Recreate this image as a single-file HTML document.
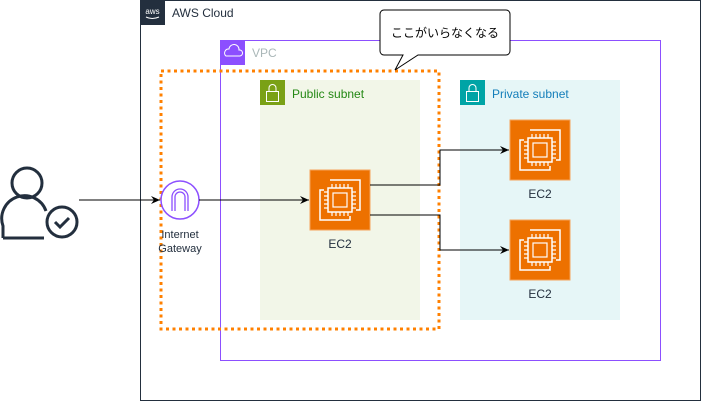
<!DOCTYPE html>
<html><head><meta charset="utf-8"><style>html,body{margin:0;padding:0;background:#fff}svg{display:block}text{font-family:"Liberation Sans","Noto Sans CJK JP",sans-serif}</style></head><body>
<svg width="701" height="401" viewBox="0 0 701 401" xmlns="http://www.w3.org/2000/svg">
<defs>
<marker id="a" markerWidth="10" markerHeight="10" refX="9" refY="5" orient="auto" markerUnits="userSpaceOnUse"><path d="M0,1 L9,5 L0,9 L3,5 Z" fill="#000"/></marker>
<g id="ec2">
<rect width="60" height="60" fill="#ed7100" stroke="#f5a25a" stroke-width="1"/>
<path d="M20,10 H50 V40 H46 M14,20 H10 V50 H40 V46" fill="none" stroke="#fff" stroke-width="1.5"/>
<rect x="18" y="18" width="24" height="24" fill="none" stroke="#fff" stroke-width="1.5"/>
<rect x="23" y="23" width="14" height="14" fill="none" stroke="#fff" stroke-width="1.2"/>
<path d="M22,14v4M26,14v4M30,14v4M34,14v4M38,14v4M22,42v4M26,42v4M30,42v4M34,42v4M38,42v4M14,22h4M14,26h4M14,30h4M14,34h4M14,38h4M42,22h4M42,26h4M42,30h4M42,34h4M42,38h4" stroke="#fff" stroke-width="1.2"/>
</g>
</defs>
<rect x="140.5" y="0.5" width="560" height="400" fill="#fff" stroke="#232f3e"/>
<rect x="140" y="0" width="25" height="25" fill="#232f3e"/>
<text x="152.5" y="14" font-size="8" fill="#fff" text-anchor="middle">aws</text>
<path d="M146,17 q6,3 13,0" stroke="#fff" fill="none" stroke-width="1"/>
<text x="172" y="17" font-size="12" fill="#232f3e">AWS Cloud</text>
<rect x="220.5" y="40.5" width="440" height="320" fill="none" stroke="#8c4fff"/>
<rect x="220" y="40" width="25" height="25" fill="#8c4fff"/>
<path d="M226,56 a4,4 0 0 1 3,-7 a5,5 0 0 1 10,1 a3,3 0 0 1 1,6 Z" fill="none" stroke="#fff" stroke-width="1"/>
<text x="252" y="57" font-size="12" fill="#aab7b8">VPC</text>
<rect x="260" y="80" width="160" height="240" fill="#f2f6e8"/>
<rect x="260" y="80" width="25" height="25" fill="#7aa116"/>
<rect x="266.5" y="91.5" width="12" height="10" fill="none" stroke="#fff"/><path d="M269,91 v-3 a3.5,3.5 0 0 1 7,0 v3" fill="none" stroke="#fff"/>
<text x="292" y="98" font-size="12" fill="#248814">Public subnet</text>
<rect x="460" y="80" width="160" height="240" fill="#e6f6f7"/>
<rect x="460" y="80" width="25" height="25" fill="#00a4a6"/>
<rect x="466.5" y="91.5" width="12" height="10" fill="none" stroke="#fff"/><path d="M469,91 v-3 a3.5,3.5 0 0 1 7,0 v3" fill="none" stroke="#fff"/>
<text x="492" y="98" font-size="12" fill="#147eba">Private subnet</text>
<rect x="161" y="71" width="278" height="258" fill="none" stroke="#ff8000" stroke-width="3" stroke-dasharray="3,3.5"/>
<path d="M384,10 H506 a4,4 0 0 1 4,4 V51 a4,4 0 0 1 -4,4 H418 L395,70 L403,55 H384 a4,4 0 0 1 -4,-4 V14 a4,4 0 0 1 4,-4 Z" fill="#fff" stroke="#000"/>
<text x="445" y="37" font-size="12" text-anchor="middle" fill="#000">ここがいらなくなる</text>
<g fill="none" stroke="#232f3e" stroke-width="3">
<circle cx="27" cy="183" r="15"/>
<path d="M3,238 V226 a22,22 0 0 1 43,-15"/><path d="M3,238 H44"/>
<circle cx="62" cy="222" r="15"/>
<path d="M55,222 l5,5 l9,-9"/>
</g>
<circle cx="180" cy="200" r="19" fill="#fff" stroke="#8c4fff" stroke-width="1.5"/>
<path d="M172,211 V197 a8,8 0 0 1 16,0 V211 M175,211 V197 a5,5 0 0 1 10,0 V211" fill="none" stroke="#8c4fff" stroke-width="1.3"/>
<text x="180" y="238" font-size="11" text-anchor="middle" fill="#232f3e">Internet</text>
<text x="180" y="252" font-size="11" text-anchor="middle" fill="#232f3e">Gateway</text>
<use href="#ec2" x="310" y="170"/>
<text x="340" y="248" font-size="12" text-anchor="middle" fill="#232f3e">EC2</text>
<use href="#ec2" x="510" y="120"/>
<text x="540" y="198" font-size="12" text-anchor="middle" fill="#232f3e">EC2</text>
<use href="#ec2" x="510" y="220"/>
<text x="540" y="298" font-size="12" text-anchor="middle" fill="#232f3e">EC2</text>
<g stroke="#000" fill="none" stroke-width="1">
<path d="M79,200 H160" marker-end="url(#a)"/>
<path d="M199,200 H309" marker-end="url(#a)"/>
<path d="M370,185 H440 V150 H509" marker-end="url(#a)"/>
<path d="M370,215 H440 V250 H509" marker-end="url(#a)"/>
</g>
</svg>
</body></html>
